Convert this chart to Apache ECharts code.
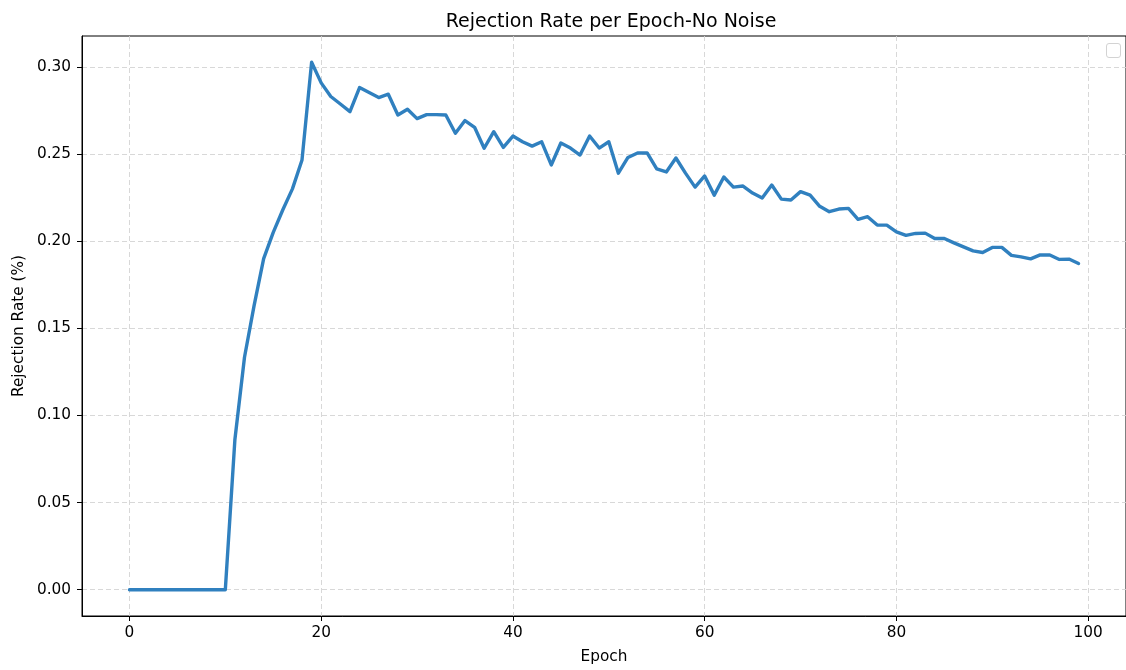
<!DOCTYPE html>
<html>
<head>
<meta charset="utf-8">
<script src="https://cdn.jsdelivr.net/npm/echarts@6/dist/echarts.min.js"></script>
<style>
  html, body { margin: 0; padding: 0; background: #fff; }
  #chart { width: 1126px; height: 670px; }
</style>
</head>
<body>
<div id="chart"></div>
<script>
// Rejection rate recorded after each training epoch (no-noise run)
const epochs = Array.from({ length: 100 }, (_, i) => i);
const rejectionRate = [
  0, 0, 0, 0, 0, 0, 0, 0, 0, 0,
  0, 0.0862, 0.1334, 0.163, 0.190, 0.205, 0.218, 0.230, 0.2466, 0.3026,
  0.2908, 0.283, 0.2787, 0.2743, 0.2881, 0.2853, 0.2824, 0.2843, 0.2724, 0.2757,
  0.2703, 0.2726, 0.2726, 0.2724, 0.2619, 0.2692, 0.2653, 0.2533, 0.2628, 0.2538,
  0.2603, 0.257, 0.2545, 0.257, 0.2437, 0.2563, 0.2534, 0.2494, 0.2603, 0.2534,
  0.257, 0.239, 0.248, 0.2506, 0.2506, 0.2414, 0.2397, 0.2477, 0.239, 0.231,
  0.2374, 0.2264, 0.2368, 0.231, 0.2316, 0.2276, 0.2247, 0.2322, 0.2241, 0.2236,
  0.2284, 0.2264, 0.2200, 0.2169, 0.2184, 0.2188, 0.2125, 0.214, 0.2092, 0.2092,
  0.2053, 0.2033, 0.2044, 0.2046, 0.2015, 0.2015, 0.199, 0.1967, 0.1944, 0.1935,
  0.1964, 0.1964, 0.1918, 0.191, 0.1898, 0.1921, 0.192, 0.1895, 0.1897, 0.1872
];
const xTicks = [0, 20, 40, 60, 80, 100];
const yTicks = [0, 0.05, 0.10, 0.15, 0.20, 0.25, 0.30];

const font = 'DejaVu Sans';
const tickFont = 15.3;
const chart = echarts.init(document.getElementById('chart'), null, { renderer: 'canvas' });

const gridLine = { show: true, lineStyle: { color: '#d4d4d4', type: [5, 3], width: 0.9 } };

chart.setOption({
  animation: false,
  backgroundColor: '#ffffff',
  title: {
    text: 'Rejection Rate per Epoch-No Noise',
    left: 606,
    textAlign: 'center',
    top: 8,
    textStyle: { fontFamily: font, fontSize: 19, fontWeight: 'normal', color: '#000' }
  },
  grid: { left: 82, width: 1046, top: 36, height: 580, show: true, borderColor: '#000', borderWidth: 1 },
  xAxis: {
    type: 'value',
    min: -4.95,
    max: 103.95,
    name: 'Epoch',
    nameLocation: 'middle',
    nameGap: 34,
    nameTextStyle: { fontFamily: font, fontSize: tickFont, color: '#000' },
    axisLine: { show: true, onZero: false, lineStyle: { color: '#000', width: 1 } },
    axisTick: { show: true, inside: false, length: 5, customValues: xTicks, lineStyle: { color: '#000' } },
    axisLabel: { customValues: xTicks, fontFamily: font, fontSize: tickFont, color: '#000', margin: 10 },
    splitLine: gridLine
  },
  yAxis: {
    type: 'value',
    min: -0.0151,
    max: 0.3177,
    name: 'Rejection Rate (%)',
    nameLocation: 'middle',
    nameGap: 54,
    nameRotate: 90,
    nameTextStyle: { fontFamily: font, fontSize: tickFont, color: '#000' },
    axisLine: { show: true, onZero: false, lineStyle: { color: '#000', width: 1 } },
    axisTick: { show: true, inside: false, length: 5, customValues: yTicks, lineStyle: { color: '#000' } },
    axisLabel: {
      customValues: yTicks,
      fontFamily: font, fontSize: tickFont, color: '#000', margin: 11,
      formatter: v => v.toFixed(2)
    },
    splitLine: gridLine
  },
  series: [{
    type: 'line',
    data: epochs.map((e, i) => [e, rejectionRate[i]]),
    showSymbol: false,
    lineStyle: { color: '#3080bf', width: 3.4, join: 'round', cap: 'round' },
    itemStyle: { color: '#3080bf' }
  }],
  graphic: [{
    // empty legend frame in the upper right corner
    type: 'rect',
    left: 1106,
    top: 43,
    shape: { width: 14, height: 14, r: 2.5 },
    style: { fill: '#ffffff', stroke: '#d3d3d3', lineWidth: 1 }
  }]
});
</script>
</body>
</html>
